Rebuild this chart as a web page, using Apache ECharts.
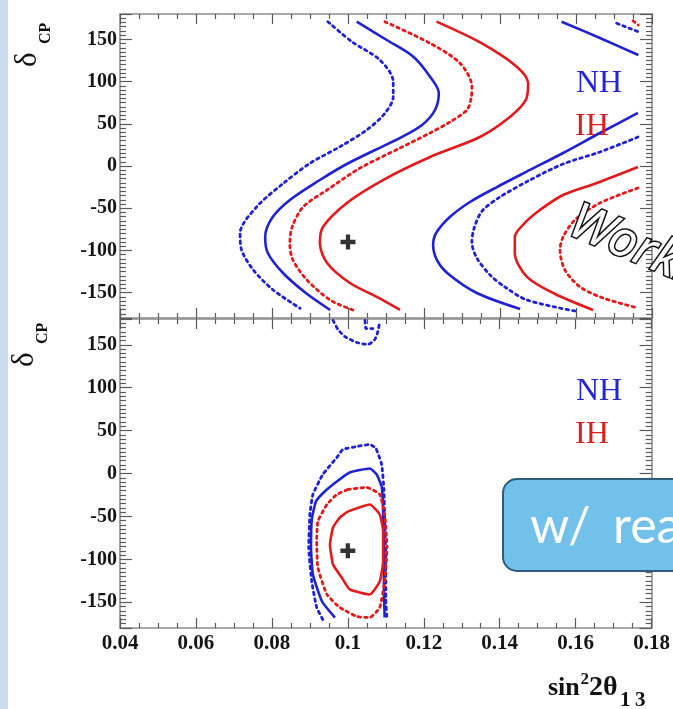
<!DOCTYPE html>
<html>
<head>
<meta charset="utf-8">
<script src="https://cdn.jsdelivr.net/npm/echarts@6/dist/echarts.min.js"></script>
<style>html,body{margin:0;padding:0;background:#fff;}#c{width:673px;height:709px;}</style>
</head>
<body>
<div id="c"></div>
<script>
// ---- axis definitions ----
const xTicks = [0.04, 0.06, 0.08, 0.1, 0.12, 0.14, 0.16, 0.18];
const xMin = 0.04, xMax = 0.18, xStep = 0.02;
const yMin = -180, yMax = 180;
const yTicks = [-150, -100, -50, 0, 50, 100, 150];

// ---- upper panel (sin^2 2theta13 vs deltaCP, without reactor) ----
const nhDotTopA = [[0.0947,170.9],[0.1010,147.2],[0.1084,125.5],[0.1119,99.8],[0.1119,82.1],[0.1097,62.4],[0.1049,42.6],[0.0979,22.9],[0.0900,3.2],[0.0830,-20.5],[0.0760,-48.2],[0.0716,-79.7],[0.0720,-99.5],[0.0751,-123.2],[0.0803,-146.8],[0.0874,-168.5]];
const nhSolidTopA = [[0.1023,170.9],[0.1102,149.2],[0.1172,129.4],[0.1216,105.7],[0.1239,86.4],[0.1229,66.3],[0.1195,48.6],[0.1137,33.2],[0.1071,18.9],[0.0992,1.2],[0.0926,-16.6],[0.0847,-40.3],[0.0800,-61.6],[0.0782,-84.1],[0.0789,-103.0],[0.0829,-126.7],[0.0889,-150.4],[0.0953,-170.5]];
const ihDotTopA = [[0.1097,170.9],[0.1216,145.3],[0.1295,121.6],[0.1326,93.9],[0.1324,80.0],[0.1313,66.3],[0.1268,52.1],[0.1216,39.1],[0.1137,21.3],[0.1032,-2.4],[0.0945,-28.4],[0.0882,-48.5],[0.0853,-72.2],[0.0847,-92.4],[0.0855,-111.3],[0.0892,-135.0],[0.0953,-158.7],[0.1013,-170.5]];
const ihSolidTopA = [[0.1233,170.9],[0.1350,145.7],[0.1444,117.6],[0.1474,97.9],[0.1468,78.2],[0.1426,58.0],[0.1347,34.3],[0.1216,10.7],[0.1092,-16.6],[0.0997,-43.8],[0.0934,-72.2],[0.0926,-91.2],[0.0945,-114.9],[0.1005,-138.6],[0.1076,-155.1],[0.1137,-170.5]];
const nhSolidTopB = [[0.1763,62.8],[0.1663,39.1],[0.1566,15.4],[0.1479,-4.7],[0.1392,-24.9],[0.1321,-42.6],[0.1268,-60.4],[0.1232,-79.3],[0.1224,-93.5],[0.1234,-111.3],[0.1261,-126.7],[0.1339,-150.4],[0.1453,-169.3]];
const nhSolidTopC = [[0.1562,170.9],[0.1663,151.6],[0.1764,131.4]];
const nhDotTopB = [[0.1763,34.3],[0.1663,16.6],[0.1566,2.4],[0.1479,-16.6],[0.1400,-36.7],[0.1353,-53.3],[0.1332,-73.4],[0.1326,-90.0],[0.1339,-108.9],[0.1374,-129.1],[0.1413,-143.3],[0.1471,-158.7],[0.1597,-171.7]];
const nhDotTopC = [[0.1707,169.0],[0.1764,159.0]];
const ihSolidTopB = [[0.1763,-1.2],[0.1655,-20.1],[0.1566,-34.3],[0.1505,-52.1],[0.1468,-66.3],[0.1439,-84.1],[0.1439,-103.0],[0.1471,-131.4],[0.1545,-151.6],[0.1645,-170.5]];
const ihDotTopB = [[0.1763,-26.1],[0.1663,-43.8],[0.1597,-63.9],[0.1566,-84.1],[0.1558,-99.5],[0.1571,-123.2],[0.1611,-143.3],[0.1671,-156.3],[0.1763,-168.2]];
const ihDotTopC = [[0.1750,172.0],[0.1764,167.0]];
const bestFitTop = [[0.1, -90]];

// ---- lower panel (with reactor constraint) ----
const nhDotBotA = [[0.0934,-170.1],[0.0918,-156.1],[0.0905,-125.8],[0.0897,-86.2],[0.0900,-47.8],[0.0908,-24.5],[0.0934,-1.2],[0.0971,18.6],[0.0987,28.0],[0.1024,31.5],[0.1058,33.8],[0.1074,29.1],[0.1089,10.5],[0.1095,-18.6],[0.1097,-53.6],[0.1100,-100.2],[0.1100,-146.8],[0.1103,-170.1]];
const nhDotBotB = [[0.0961,178.3],[0.0974,167.8],[0.0992,159.6],[0.1024,152.6],[0.1053,150.3],[0.1071,156.1],[0.1079,165.4],[0.1084,177.1]];
const nhDotBotC = [[0.1045,178.3],[0.1047,168.9],[0.1066,168.9]];
const nhSolidBot = [[0.0966,-167.8],[0.0932,-149.1],[0.0908,-117.7],[0.0903,-86.2],[0.0905,-53.6],[0.0916,-32.6],[0.0939,-21.0],[0.0971,-9.3],[0.1005,1.2],[0.1058,5.8],[0.1076,-1.2],[0.1089,-15.1],[0.1092,-32.6],[0.1095,-86.2],[0.1095,-135.1],[0.1097,-167.8]];
const ihDotBot = [[0.1000,-18.6],[0.1050,-16.3],[0.1084,-24.5],[0.1097,-47.8],[0.1103,-86.2],[0.1097,-125.8],[0.1084,-156.1],[0.1058,-167.8],[0.1024,-166.6],[0.0979,-156.1],[0.0945,-141.0],[0.0921,-109.5],[0.0918,-79.2],[0.0921,-55.9],[0.0945,-36.1],[0.0971,-24.5],[0.1000,-18.6]];
const ihSolidBot = [[0.1000,-44.3],[0.1058,-36.1],[0.1084,-47.8],[0.1093,-67.6],[0.1093,-102.5],[0.1084,-125.8],[0.1058,-141.0],[0.1005,-135.1],[0.0984,-121.2],[0.0961,-106.0],[0.0953,-82.7],[0.0961,-62.9],[0.0979,-51.3],[0.1000,-44.3]];
const bestFitBot = [[0.1, -90]];

// ---- styles ----
const BLUE = '#1f22d2', RED = '#e21a1c';
const SERIF = '"Liberation Serif", "DejaVu Serif", serif';

function contour(data, color, dotted, panel, smooth) {
  return {
    type: 'line', data: data, xAxisIndex: panel * 2, yAxisIndex: panel * 2,
    showSymbol: false, symbol: 'none', smooth: smooth, clip: true, silent: true,
    lineStyle: { color: color, width: dotted ? 2.8 : 2.6, type: dotted ? [2.6, 4] : 'solid', cap: dotted ? 'round' : 'butt' },
    z: 3
  };
}
function cross(data, panel) {
  return {
    type: 'scatter', data: data, xAxisIndex: panel * 2, yAxisIndex: panel * 2,
    symbol: 'path://M5,0H9V5H14V9H9V14H5V9H0V5H5Z', symbolSize: 15,
    itemStyle: { color: '#000' }, silent: true, z: 5
  };
}

const tickLine = { color: '#5a5a5a', width: 1.2 };
function xAx(grid, pos, labels) {
  return {
    type: 'value', gridIndex: grid, position: pos, min: xMin, max: xMax, interval: xStep,
    axisLine: { show: true, onZero: false, lineStyle: { color: '#8c8c8c', width: 1.6 } },
    axisTick: { show: true, inside: true, length: 10, lineStyle: tickLine },
    minorTick: { show: true, splitNumber: 4, length: 5, lineStyle: tickLine },
    splitLine: { show: false },
    axisLabel: { show: labels, margin: 5, color: '#151515', fontFamily: SERIF, fontWeight: 'bold', fontSize: 21 }
  };
}
function yAx(grid, pos, labels) {
  return {
    type: 'value', gridIndex: grid, position: pos, min: yMin, max: yMax, splitNumber: 7,
    axisLine: { show: true, onZero: false, lineStyle: { color: '#8c8c8c', width: 1.6 } },
    axisTick: { show: true, inside: true, length: 12, lineStyle: tickLine },
    minorTick: { show: true, splitNumber: 10, length: 6, lineStyle: tickLine },
    splitLine: { show: false },
    axisLabel: { show: labels, margin: 3, color: '#151515', fontFamily: SERIF, fontWeight: 'bold', fontSize: 20,
      showMinLabel: false, showMaxLabel: false,
      formatter: function (v) { return yTicks.indexOf(v) >= 0 ? String(v) : ''; } }
  };
}

function deltaLabel(x, y) {
  return { type: 'group', x: x, y: y, rotation: Math.PI / 2, z: 50, children: [
    { type: 'text', style: { text: 'δ', x: 0, y: -10, font: '31px ' + SERIF, fill: '#111', verticalAlign: 'middle' } },
    { type: 'text', style: { text: 'CP', x: 23, y: 8, font: 'bold 16px ' + SERIF, fill: '#111', verticalAlign: 'middle' } }
  ] };
}

const chart = echarts.init(document.getElementById('c'), null, { renderer: 'canvas' });
chart.setOption({
  backgroundColor: '#ffffff',
  animation: false,
  grid: [
    { left: 120, top: 14, width: 532, height: 304, containLabel: false },
    { left: 120, top: 319, width: 532, height: 309, containLabel: false }
  ],
  xAxis: [xAx(0, 'bottom', false), xAx(0, 'top', false), xAx(1, 'bottom', true), xAx(1, 'top', false)],
  yAxis: [yAx(0, 'left', true), yAx(0, 'right', false), yAx(1, 'left', true), yAx(1, 'right', false)],
  series: [
    contour(nhDotTopA, BLUE, true, 0, 0.3),
    contour(nhSolidTopA, BLUE, false, 0, 0.3),
    contour(ihDotTopA, RED, true, 0, 0.3),
    contour(ihSolidTopA, RED, false, 0, 0.3),
    contour(nhSolidTopB, BLUE, false, 0, 0.3),
    contour(nhSolidTopC, BLUE, false, 0, 0.3),
    contour(nhDotTopB, BLUE, true, 0, 0.3),
    contour(nhDotTopC, BLUE, true, 0, 0),
    contour(ihSolidTopB, RED, false, 0, 0.3),
    contour(ihDotTopB, RED, true, 0, 0.3),
    contour(ihDotTopC, RED, true, 0, 0),
    cross(bestFitTop, 0),
    contour(nhDotBotA, BLUE, true, 1, 0.15),
    contour(nhDotBotB, BLUE, true, 1, 0.2),
    contour(nhDotBotC, BLUE, true, 1, 0),
    contour(nhSolidBot, BLUE, false, 1, 0.15),
    contour(ihDotBot, RED, true, 1, 0.15),
    contour(ihSolidBot, RED, false, 1, 0.15),
    cross(bestFitBot, 1)
  ],
  graphic: [
    { type: 'rect', z: -10, shape: { x: 0, y: 0, width: 8, height: 709 }, style: { fill: '#c9dced' } },
    deltaLabel(38, 67),
    deltaLabel(35, 367),
    // x-axis title sin^2 2theta_13
    { type: 'text', z: 50, style: { text: 'sin', x: 548, y: 688, font: 'bold 26px ' + SERIF, fill: '#111', verticalAlign: 'middle' } },
    { type: 'text', z: 50, style: { text: '2', x: 580.5, y: 680, font: 'bold 17px ' + SERIF, fill: '#111', verticalAlign: 'middle' } },
    { type: 'text', z: 50, style: { text: '2θ', x: 589, y: 687.5, font: 'bold 28px ' + SERIF, fill: '#111', verticalAlign: 'middle' } },
    { type: 'text', z: 50, style: { text: '1', x: 620, y: 701, font: 'bold 21px ' + SERIF, fill: '#111', verticalAlign: 'middle' } },
    { type: 'text', z: 50, style: { text: '3', x: 635, y: 701, font: 'bold 21px ' + SERIF, fill: '#111', verticalAlign: 'middle' } },
    // legends
    { type: 'text', z: 50, style: { text: 'NH', x: 576, y: 84, font: '32px ' + SERIF, fill: '#2424d6', verticalAlign: 'middle' } },
    { type: 'text', z: 50, style: { text: 'IH', x: 575, y: 127, font: '32px ' + SERIF, fill: '#d91f1f', verticalAlign: 'middle' } },
    { type: 'text', z: 50, style: { text: 'NH', x: 576, y: 392, font: '32px ' + SERIF, fill: '#2424d6', verticalAlign: 'middle' } },
    { type: 'text', z: 50, style: { text: 'IH', x: 575, y: 435, font: '32px ' + SERIF, fill: '#d91f1f', verticalAlign: 'middle' } },
    // overlaid slide annotations
    { type: 'text', z: 60, x: 566, y: 233, rotation: -0.4,
      style: { text: 'Working', x: 0, y: -14, font: 'italic 50px "Noto Sans"', fill: '#ffffff', stroke: '#111', lineWidth: 3, verticalAlign: 'middle' } },
    { type: 'rect', z: 60, shape: { x: 503, y: 479, width: 200, height: 92, r: 14 }, style: { fill: '#72c1ea', stroke: '#2d5c7c', lineWidth: 2 } },
    { type: 'text', z: 61, style: { text: 'w/', x: 530, y: 527, font: '50px Lato', fill: '#ffffff', verticalAlign: 'middle' } },
    { type: 'text', z: 61, style: { text: 'reactor', x: 613, y: 527, font: '50px Lato', fill: '#ffffff', verticalAlign: 'middle' } }
  ]
});
</script>
</body>
</html>
